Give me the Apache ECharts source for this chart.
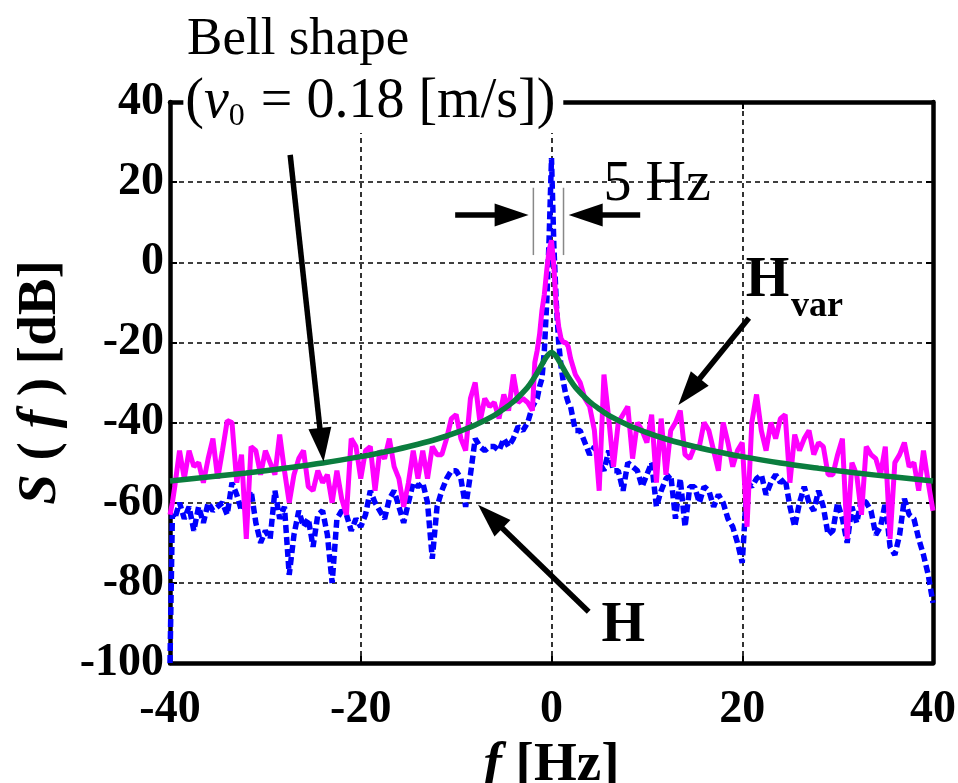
<!DOCTYPE html>
<html>
<head>
<meta charset="utf-8">
<script src="https://cdn.jsdelivr.net/npm/echarts@6/dist/echarts.min.js"></script>
<style>
  html, body { margin: 0; padding: 0; background: #fff; }
  #chart { width: 958px; height: 783px; }
</style>
</head>
<body>
<div id="chart"></div>
<script>
// Sampling frequencies of the measured spectra [Hz]
const freq = [
  -40, -39.75, -39.5, -39, -38.5, -38, -37.5, -37, -36.5, -36, -35.5, -35, -34.5, -34, -33.5, -33, -32.5,
  -32, -31.5, -31, -30.5, -30, -29.5, -29, -28.5, -28, -27.5, -27, -26.5, -26, -25.5, -25, -24.5,
  -24, -23.5, -23, -22.5, -22, -21.5, -21, -20.5, -20, -19.5, -19, -18.5, -18, -17.5, -17, -16.5,
  -16, -15.5, -15, -14.5, -14, -13.5, -13, -12.5, -12, -11.5, -11, -10.5, -10, -9.5, -9, -8.5,
  -8, -7.5, -7, -6.5, -6, -5.5, -5, -4.5, -4, -3.5, -3, -2.5,
  -2, -1.75, -1.5, -1.25, -1, -0.75, -0.5, -0.25, 0, 0.25, 0.5, 0.75, 1, 1.25, 1.5, 1.75, 2,
  2.5, 3, 3.5, 4, 4.5, 5, 5.5, 6, 6.5, 7, 7.5, 8, 8.5, 9, 9.5, 10,
  10.5, 11, 11.5, 12, 12.5, 13, 13.5, 14, 14.5, 15, 15.5, 16, 16.5, 17, 17.5, 18,
  18.5, 19, 19.5, 20, 20.5, 21, 21.5, 22, 22.5, 23, 23.5, 24, 24.5, 25, 25.5, 26,
  26.5, 27, 27.5, 28, 28.5, 29, 29.5, 30, 30.5, 31, 31.5, 32, 32.5, 33, 33.5, 34,
  34.5, 35, 35.5, 36, 36.5, 37, 37.5, 38, 38.5, 39, 39.5, 40
];

// H : spectrum without velocity variation [dB]
const specH = [
  -100, -63, -64, -60, -64, -61, -67, -61, -65, -60, -62, -61, -60, -63, -55, -58, -62,
  -59, -57, -65, -70, -67, -69, -57, -64, -61, -78, -68, -62, -66, -64, -71, -63,
  -62, -68, -80, -64, -62, -63, -67, -64, -66, -63, -57, -60, -62, -64, -59, -57,
  -61, -65, -60, -55, -56, -55, -60, -74, -61, -57, -54, -52, -52, -54, -61, -53,
  -44, -46, -47, -46, -46, -47, -44, -46, -44, -41, -42, -40,
  -36, -35, -34, -31, -29, -22, -10, 6, 26, 4, -10, -20, -26, -30, -33, -35, -36,
  -42, -42, -45, -48, -46, -50, -52, -47, -52, -52, -57, -50, -51, -52, -56, -53,
  -50, -61, -57, -54, -53, -64, -54, -66, -56, -56, -60, -56, -57, -61, -58, -60,
  -64, -66, -70, -75, -55, -56, -54, -53, -58, -55, -53, -55, -54, -61, -66, -60,
  -56, -60, -62, -57, -61, -68, -67, -60, -64, -70, -61, -65, -59, -60, -62, -68,
  -66, -60, -71, -73, -68, -59, -63, -64, -69, -73, -78, -85
];

// H_var : spectrum with velocity variation [dB]
const specHvar = [
  -63, -60, -56, -47, -54, -47, -51, -50, -55, -49, -44, -54, -47, -39.5, -40, -55, -48,
  -69, -46, -47, -53, -47, -50, -53, -43, -52, -60, -53, -49, -47, -56, -57, -52,
  -55, -53, -60, -52, -59, -63, -44, -46, -54, -47, -46, -57, -47, -49, -44, -51,
  -54, -61, -55, -47, -54, -47, -54, -46, -48, -48, -44, -39, -38, -44, -47, -34,
  -30, -40, -34, -36, -35, -39, -33, -37, -28, -35, -34, -35,
  -37, -25, -22, -18, -12, -8, -2, 3, 5.5, -1, -11, -16, -19, -20, -20, -21, -24,
  -28, -30, -34, -36, -42, -57, -28, -39, -51, -40, -38, -36, -49, -40, -42, -45,
  -38, -55, -39, -53, -42, -40, -37, -48, -49, -46, -46, -40, -42, -47, -52, -40,
  -45, -51, -47, -45, -66, -40, -33, -42, -47, -40, -44, -39, -38, -55, -43, -47,
  -44, -42, -48, -45, -46, -53, -53, -48, -44, -69, -50, -53, -63, -46, -48, -49,
  -53, -46, -69, -50, -48, -45, -51, -50, -57, -47, -55, -62
];

// Bell-shape model spectrum (v0 = 0.18 m/s)
const bellFreq = [
  -40, -36, -32, -28, -24, -20, -17, -14, -12, -10, -8, -6, -5, -4, -3, -2.5, -2, -1.5, -1, -0.5, 0,
  0.5, 1, 1.5, 2, 2.5, 3, 4, 5, 6, 8, 10, 12, 14, 17, 20, 24, 28, 32, 36, 40
];
const bellVals = [
  -54.6, -53.6, -52.6, -51.4, -50.1, -48.5, -47.1, -45.4, -44.1, -42.5, -40.6, -38.2, -36.6, -34.8, -32.5, -31.2, -29.5, -27.6, -25.5, -23.5, -22.5,
  -23.5, -25.5, -27.6, -29.5, -31.2, -32.5, -34.8, -36.6, -38.2, -40.6, -42.5, -44.1, -45.4, -47.1, -48.5, -50.1, -51.4, -52.6, -53.6, -54.6
];

const xTicks = { min: -40, max: 40, step: 20 };
const yTicks = { min: -100, max: 40, step: 20 };

const serif = '"Liberation Serif", "Times New Roman", serif';
const pairs = (xs, ys) => xs.map((x, i) => [x, ys[i]]);

const chart = echarts.init(document.getElementById('chart'));

const tickLabel = {
  color: '#000', fontFamily: serif, fontWeight: 'bold', fontSize: 46
};
const gridDash = { color: '#000', width: 1.6, type: [5, 4] };
const frameLine = { color: '#000', width: 4.5 };
const innerTick = { inside: true, length: 7, lineStyle: { color: '#000', width: 2 } };
const nameFont = 55;

chart.setOption({
  animation: false,
  backgroundColor: '#fff',
  grid: { left: 170, right: 25, top: 102, bottom: 120, containLabel: false, outerBoundsMode: 'none' },
  xAxis: [
    {
      type: 'value', min: xTicks.min, max: xTicks.max, interval: xTicks.step,
      axisLine: { onZero: false, lineStyle: frameLine },
      axisTick: innerTick,
      axisLabel: Object.assign({ margin: 24 }, tickLabel),
      splitLine: { show: true, lineStyle: gridDash },
      name: '{it|f} [Hz]', nameLocation: 'middle', nameGap: 92,
      nameTextStyle: {
        color: '#000', fontFamily: serif, fontWeight: 'bold', fontSize: nameFont,
        verticalAlign: 'middle', lineHeight: 56,
        rich: { it: { fontFamily: serif, fontWeight: 'bold', fontStyle: 'italic', fontSize: nameFont, lineHeight: 56 } }
      }
    },
    {
      type: 'value', position: 'top', min: xTicks.min, max: xTicks.max, interval: xTicks.step,
      axisLine: { onZero: false, lineStyle: frameLine },
      axisTick: innerTick, axisLabel: { show: false }, splitLine: { show: false }
    }
  ],
  yAxis: [
    {
      type: 'value', min: yTicks.min, max: yTicks.max, interval: yTicks.step,
      axisLine: { onZero: false, lineStyle: frameLine },
      axisTick: innerTick,
      axisLabel: Object.assign({ margin: 6 }, tickLabel),
      splitLine: { show: true, lineStyle: gridDash },
      name: '{it|S} ( {it|f} ) [dB]', nameLocation: 'middle', nameGap: 99, nameRotate: 90,
      nameTextStyle: {
        color: '#000', fontFamily: serif, fontWeight: 'bold', fontSize: nameFont,
        rich: { it: { fontFamily: serif, fontWeight: 'bold', fontStyle: 'italic', fontSize: nameFont } }
      }
    },
    {
      type: 'value', position: 'right', min: yTicks.min, max: yTicks.max, interval: yTicks.step,
      axisLine: { onZero: false, lineStyle: frameLine },
      axisTick: innerTick, axisLabel: { show: false }, splitLine: { show: false }
    }
  ],
  series: [
    {
      name: 'H', type: 'line', data: pairs(freq, specH), showSymbol: false,
      lineStyle: { color: '#0000ff', width: 5.5, type: [8, 4] }, z: 2
    },
    {
      name: 'Hvar', type: 'line', data: pairs(freq, specHvar), showSymbol: false,
      lineStyle: { color: '#ff00ff', width: 5 }, z: 3
    },
    {
      name: 'Bell shape', type: 'line', data: pairs(bellFreq, bellVals), showSymbol: false,
      smooth: 0.3,
      lineStyle: { color: '#0b7d3e', width: 5.5 }, z: 4
    }
  ]
});

// ---- annotations, anchored in data coordinates ----
const px = (p) => chart.convertToPixel({ gridIndex: 0 }, p);

function arrow(tailData, headData, opt) {
  const t = px(tailData), h = px(headData);
  const dx = h[0] - t[0], dy = h[1] - t[1];
  const len = Math.hypot(dx, dy), ux = dx / len, uy = dy / len;
  const bx = h[0] - ux * opt.headLen, by = h[1] - uy * opt.headLen;
  const nx = -uy * opt.headWidth / 2, ny = ux * opt.headWidth / 2;
  return [
    { type: 'line', z: 100, shape: { x1: t[0], y1: t[1], x2: bx + ux * 2, y2: by + uy * 2 },
      style: { stroke: '#000', lineWidth: opt.width } },
    { type: 'polygon', z: 100, shape: { points: [[h[0], h[1]], [bx + nx, by + ny], [bx - nx, by - ny]] },
      style: { fill: '#000' } }
  ];
}

function label(text, anchor, style) {
  const p = px(anchor);
  return {
    type: 'text', z: 101, x: p[0], y: p[1],
    style: Object.assign({ text: text, fill: '#000', fontFamily: serif }, style)
  };
}

const headStyle = { headLen: 34, headWidth: 23, width: 5.5 };
const wedge1 = px([-1.9, 18.6]), wedge2 = px([-1.9, 1.8]);
const wedge3 = px([1.26, 18.6]), wedge4 = px([1.26, 1.8]);

const graphics = [].concat(
  // title text above the frame
  label('Bell shape', [-26.56, 55.5], { fontSize: 53, textAlign: 'center', textVerticalAlign: 'middle' }),
  label('({i|v}{s|0} = 0.18 [m/s])', [-38.6, 40], {
    fontSize: 56, textAlign: 'left', textVerticalAlign: 'middle',
    backgroundColor: '#fff', padding: [0, 8, 0, 2],
    rich: {
      i: { fontFamily: serif, fontStyle: 'italic', fontSize: 56 },
      s: { fontFamily: serif, fontSize: 32, padding: [30, 2, 0, 0] }
    }
  }),
  arrow([-27.4, 26.8], [-23.9, -49.8], headStyle),
  // 5 Hz marker
  { type: 'line', z: 100, shape: { x1: wedge1[0], y1: wedge1[1], x2: wedge2[0], y2: wedge2[1] },
    style: { stroke: '#888', lineWidth: 1.5 } },
  { type: 'line', z: 100, shape: { x1: wedge3[0], y1: wedge3[1], x2: wedge4[0], y2: wedge4[1] },
    style: { stroke: '#888', lineWidth: 1.5 } },
  arrow([-10.1, 11.8], [-2.4, 11.8], headStyle),
  arrow([9.3, 11.8], [1.8, 11.8], headStyle),
  label('5 Hz', [5.46, 19.3], { fontSize: 56, textAlign: 'left', textVerticalAlign: 'middle' }),
  // H_var pointer
  label('H', [20.37, -4.9], { fontSize: 56, fontWeight: 'bold', textAlign: 'left', textVerticalAlign: 'middle' }),
  label('var', [25.1, -11.1], { fontSize: 36, fontWeight: 'bold', textAlign: 'left', textVerticalAlign: 'middle' }),
  arrow([20.7, -13.9], [13.3, -35.6], headStyle),
  // H pointer
  label('H', [5.25, -90.9], { fontSize: 56, fontWeight: 'bold', textAlign: 'left', textVerticalAlign: 'middle' }),
  arrow([3.9, -87.2], [-7.7, -60.5], headStyle)
);

chart.setOption({ graphic: graphics });
</script>
</body>
</html>
